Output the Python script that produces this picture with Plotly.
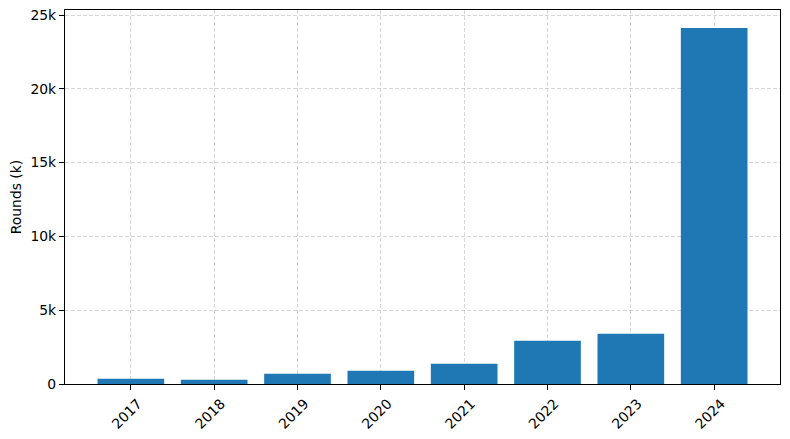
import plotly.graph_objects as go

years = ["2017", "2018", "2019", "2020", "2021", "2022", "2023", "2024"]
rounds_k = [360, 290, 700, 900, 1370, 2930, 3400, 24120]

y_ticks = [0, 5000, 10000, 15000, 20000, 25000]
y_tick_labels = ["0", "5k", "10k", "15k", "20k", "25k"]

grid_color = "rgba(176,176,176,0.5)"

fig = go.Figure()
fig.add_trace(go.Bar(
    x=years,
    y=rounds_k,
    marker_color="#1f77b4",
    marker_line_width=0,
))

# page body has an 8px margin, so margins are shifted to compensate
fig.update_layout(
    width=790, height=439,
    margin=dict(l=57, r=18, t=2, b=63),
    paper_bgcolor="white",
    plot_bgcolor="white",
    bargap=0.2,
    showlegend=False,
    font=dict(family="DejaVu Sans", size=13.9, color="black"),
)

fig.update_xaxes(
    type="category",
    range=[-0.79, 7.79],
    automargin=False,
    showline=True, linecolor="black", linewidth=1.1, mirror=True,
    ticks="outside", ticklen=5, tickwidth=1.1, tickcolor="black",
    tickangle=-45, ticklabelshift=7, ticklabeloverflow="allow",
    showgrid=True, gridcolor=grid_color, gridwidth=1.1, griddash="4px,2px",
    layer="above traces",
)

fig.update_yaxes(
    range=[0, 25340],
    automargin=False,
    tickvals=y_ticks, ticktext=y_tick_labels, ticklabeloverflow="allow",
    showline=True, linecolor="black", linewidth=1.1, mirror=True,
    ticks="outside", ticklen=5, tickwidth=1.1, tickcolor="black",
    showgrid=True, gridcolor=grid_color, gridwidth=1.1, griddash="4px,2px",
    zeroline=False,
    title=dict(text="Rounds (k)", standoff=8, font=dict(size=13.9)),
    layer="above traces",
)

fig.write_html("out.html")
